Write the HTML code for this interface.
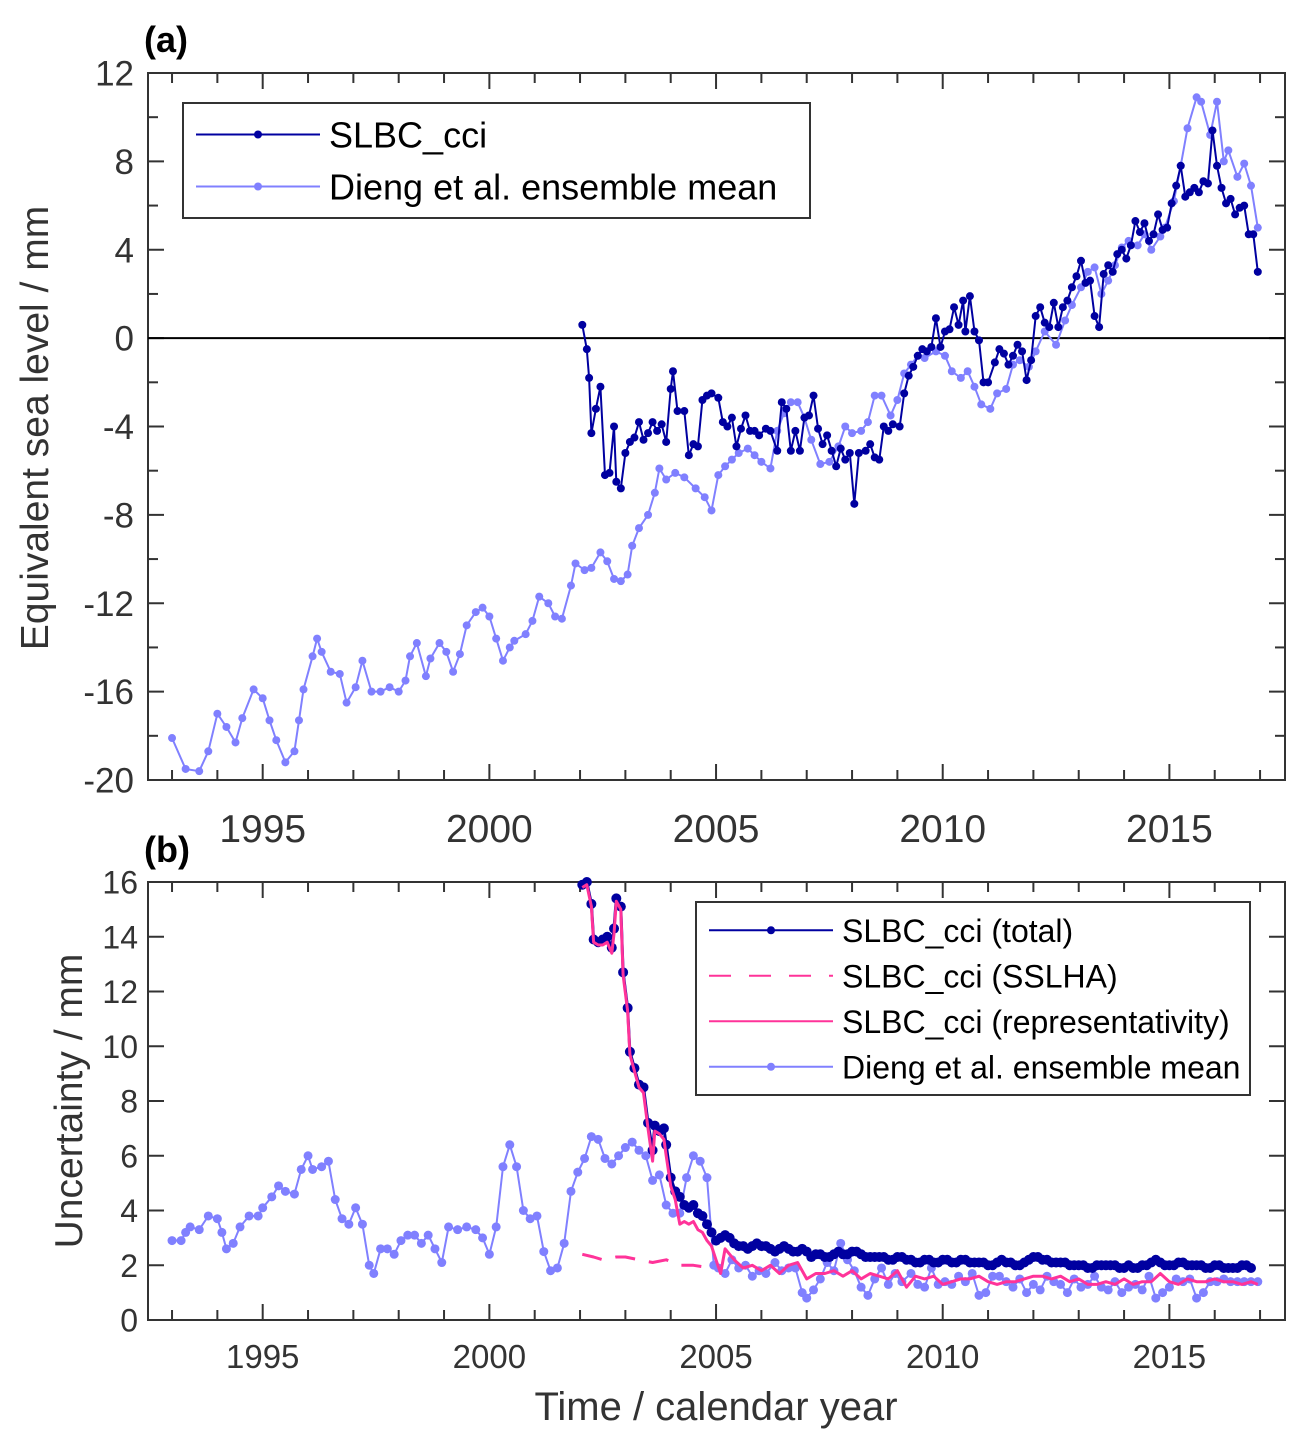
<!DOCTYPE html>
<html><head><meta charset="utf-8"><style>
body{margin:0;background:#fff}
svg{display:block;font-family:"Liberation Sans",Arial,sans-serif}
</style></head><body>
<svg id="fig" width="1304" height="1447" viewBox="0 0 1304 1447" xmlns="http://www.w3.org/2000/svg">
<g id="pa"></g>
<g id="pb"></g>
</svg>
<script>
// ---- Panel (a) data ----
const aDiengT=[1993.0,1993.3,1993.6,1993.8,1994.0,1994.2,1994.4,1994.55,1994.8,1995.0,
1995.15,1995.3,1995.5,1995.7,1995.8,1995.9,1996.1,1996.2,1996.3,1996.5,
1996.7,1996.85,1997.05,1997.2,1997.4,1997.6,1997.8,1998.0,1998.15,1998.25,
1998.4,1998.6,1998.7,1998.9,1999.05,1999.2,1999.35,1999.5,1999.7,1999.85,
2000.0,2000.15,2000.3,2000.45,2000.55,2000.8,2000.95,2001.1,2001.3,2001.45,
2001.6,2001.8,2001.9,2002.1,2002.25,2002.45,2002.6,2002.75,2002.9,2003.05,
2003.15,2003.3,2003.5,2003.65,2003.75,2003.9,2004.1,2004.3,2004.55,2004.75,
2004.9,2005.05,2005.2,2005.35,2005.5,2005.7,2005.85,2006.0,2006.2,2006.35,
2006.5,2006.65,2006.8,2006.95,2007.1,2007.3,2007.5,2007.7,2007.85,2008.0,
2008.2,2008.35,2008.5,2008.65,2008.85,2009.0,2009.15,2009.3,2009.45,2009.6,
2009.85,2010.05,2010.2,2010.4,2010.55,2010.7,2010.85,2011.05,2011.2,2011.4,
2011.55,2011.7,2011.9,2012.05,2012.25,2012.5,2012.7,2012.85,2013.05,2013.2,
2013.35,2013.5,2013.65,2013.8,2013.95,2014.1,2014.3,2014.45,2014.6,2014.8,
2014.9,2015.1,2015.25,2015.4,2015.6,2015.7,2015.9,2016.05,2016.2,2016.3,
2016.5,2016.65,2016.8,2016.95];
const aDiengV=[-18.1,-19.5,-19.6,-18.7,-17.0,-17.6,-18.3,-17.2,-15.9,-16.3,
-17.3,-18.2,-19.2,-18.7,-17.3,-15.9,-14.4,-13.6,-14.2,-15.1,
-15.2,-16.5,-15.8,-14.6,-16.0,-16.0,-15.8,-16.0,-15.5,-14.4,
-13.8,-15.3,-14.5,-13.8,-14.2,-15.1,-14.3,-13.0,-12.4,-12.2,
-12.6,-13.6,-14.6,-14.0,-13.7,-13.4,-12.8,-11.7,-12.0,-12.6,
-12.7,-11.2,-10.2,-10.5,-10.4,-9.7,-10.1,-10.9,-11.0,-10.7,
-9.4,-8.6,-8.0,-7.0,-5.9,-6.4,-6.1,-6.3,-6.8,-7.2,
-7.8,-6.2,-5.8,-5.5,-5.2,-5.0,-5.3,-5.6,-5.9,-4.2,
-3.4,-2.9,-2.9,-3.6,-4.6,-5.7,-5.6,-4.9,-4.0,-4.3,
-4.2,-3.8,-2.6,-2.6,-3.5,-2.8,-1.6,-1.2,-0.8,-0.9,
-0.6,-0.8,-1.5,-1.8,-1.5,-2.2,-3.0,-3.2,-2.5,-2.3,
-1.2,-1.0,-1.3,-0.6,0.3,-0.3,0.8,1.5,2.3,3.0,
3.2,2.0,2.6,3.3,4.1,4.4,4.2,4.7,4.0,4.6,
5.0,6.2,7.8,9.5,10.9,10.7,9.2,10.7,8.0,8.5,
7.3,7.9,6.9,5.0];
const aSlbcT=[2002.05,2002.15,2002.2,2002.25,2002.35,2002.45,2002.55,2002.65,2002.75,2002.8,2002.9,2003.0,2003.1,2003.2,2003.3,2003.4,2003.5,2003.6,2003.7,2003.8,2003.9,2004.0,2004.05,2004.15,2004.3,2004.4,2004.5,2004.6,2004.7,2004.8,2004.9,2005.05,2005.15,2005.25,2005.35,2005.45,2005.55,2005.65,2005.75,2005.85,2005.95,2006.1,2006.2,2006.35,2006.45,2006.55,2006.65,2006.75,2006.85,2006.95,2007.05,2007.15,2007.25,2007.35,2007.45,2007.55,2007.65,2007.75,2007.85,2007.95,2008.05,2008.15,2008.3,2008.4,2008.5,2008.6,2008.7,2008.8,2008.9,2009.05,2009.15,2009.25,2009.35,2009.45,2009.55,2009.65,2009.75,2009.85,2009.95,2010.05,2010.15,2010.25,2010.35,2010.45,2010.5,2010.6,2010.7,2010.8,2010.9,2011.0,2011.15,2011.25,2011.35,2011.45,2011.55,2011.65,2011.75,2011.85,2011.95,2012.05,2012.15,2012.25,2012.35,2012.45,2012.55,2012.65,2012.75,2012.85,2012.95,2013.05,2013.15,2013.25,2013.35,2013.45,2013.55,2013.65,2013.75,2013.85,2013.95,2014.05,2014.15,2014.25,2014.35,2014.45,2014.55,2014.65,2014.75,2014.85,2014.95,2015.05,2015.15,2015.25,2015.35,2015.45,2015.55,2015.65,2015.75,2015.85,2015.95,2016.05,2016.15,2016.25,2016.35,2016.45,2016.55,2016.65,2016.75,2016.85,2016.95];
const aSlbcV=[0.6,-0.5,-1.8,-4.3,-3.2,-2.2,-6.2,-6.1,-4.0,-6.5,-6.8,-5.2,-4.7,-4.5,-3.8,-4.6,-4.3,-3.8,-4.2,-3.9,-4.7,-2.3,-1.5,-3.3,-3.3,-5.3,-4.8,-4.9,-2.8,-2.6,-2.5,-2.7,-3.8,-4.0,-3.6,-4.9,-4.1,-3.5,-4.2,-4.2,-4.4,-4.1,-4.2,-5.1,-2.9,-3.2,-5.1,-4.2,-5.1,-3.6,-3.5,-2.6,-4.1,-4.8,-4.4,-5.1,-5.8,-5.0,-5.5,-5.2,-7.5,-5.2,-5.1,-4.8,-5.4,-5.5,-4.0,-4.2,-3.9,-4.0,-2.5,-1.7,-1.3,-0.8,-0.5,-0.6,-0.4,0.9,-0.4,0.3,0.4,1.4,0.6,1.7,0.3,1.9,0.3,-0.1,-2.0,-2.0,-1.1,-0.5,-0.7,-1.2,-0.8,-0.3,-0.6,-1.9,-1.0,1.0,1.4,0.7,0.5,1.6,0.5,1.4,1.7,2.3,2.8,3.5,2.5,2.6,1.0,0.5,2.9,3.3,3.0,3.8,4.0,3.6,4.2,5.3,4.8,5.2,4.4,4.7,5.6,4.9,5.0,6.1,6.9,7.8,6.4,6.6,6.8,6.6,7.1,7.0,9.4,7.8,6.8,6.1,6.3,5.6,5.9,6.0,4.7,4.7,3.0];
const aYTicks=[12,8,4,0,-4,-8,-12,-16,-20];
const xTickYears=[1995,2000,2005,2010,2015];

// ---- Panel (b) data ----
const bDiengT=[1993.0,1993.2,1993.3,1993.4,1993.6,1993.8,1994.0,1994.1,1994.2,1994.35,
1994.5,1994.7,1994.9,1995.0,1995.2,1995.35,1995.5,1995.7,1995.85,1996.0,
1996.1,1996.3,1996.45,1996.6,1996.75,1996.9,1997.05,1997.2,1997.35,1997.45,
1997.6,1997.75,1997.9,1998.05,1998.2,1998.35,1998.5,1998.65,1998.8,1998.95,
1999.1,1999.3,1999.5,1999.7,1999.85,2000.0,2000.15,2000.3,2000.45,2000.6,
2000.75,2000.9,2001.05,2001.2,2001.35,2001.5,2001.65,2001.8,2001.95,2002.1,
2002.25,2002.4,2002.55,2002.7,2002.85,2003.0,2003.15,2003.3,2003.45,2003.6,
2003.75,2003.9,2004.05,2004.2,2004.35,2004.5,2004.65,2004.8,2004.95,2005.05,
2005.2,2005.35,2005.5,2005.65,2005.8,2005.95,2006.1,2006.3,2006.45,2006.6,
2006.75,2006.9,2007.0,2007.15,2007.3,2007.45,2007.6,2007.75,2007.9,2008.05,
2008.2,2008.35,2008.5,2008.65,2008.8,2008.95,2009.1,2009.3,2009.45,2009.6,
2009.75,2009.9,2010.05,2010.2,2010.35,2010.5,2010.65,2010.8,2010.95,2011.1,
2011.25,2011.4,2011.55,2011.7,2011.85,2012.0,2012.15,2012.3,2012.45,2012.6,
2012.75,2012.9,2013.05,2013.2,2013.35,2013.5,2013.65,2013.8,2013.95,2014.1,
2014.25,2014.4,2014.55,2014.7,2014.85,2015.0,2015.15,2015.3,2015.45,2015.6,
2015.75,2015.9,2016.05,2016.2,2016.35,2016.5,2016.65,2016.8,2016.95];
const bDiengV=[2.9,2.9,3.2,3.4,3.3,3.8,3.7,3.2,2.6,2.8,
3.4,3.8,3.8,4.1,4.5,4.9,4.7,4.6,5.5,6.0,
5.5,5.6,5.8,4.4,3.7,3.5,4.1,3.5,2.0,1.7,
2.6,2.6,2.4,2.9,3.1,3.1,2.8,3.1,2.6,2.1,
3.4,3.3,3.4,3.3,3.0,2.4,3.4,5.6,6.4,5.6,
4.0,3.7,3.8,2.5,1.8,1.9,2.8,4.7,5.4,5.9,
6.7,6.6,5.9,5.7,6.0,6.3,6.5,6.2,6.0,5.1,
5.3,4.2,3.9,3.9,5.2,6.0,5.8,5.2,2.0,1.9,
1.7,2.2,1.9,2.0,1.6,1.8,1.7,2.1,1.8,1.9,
1.9,1.0,0.8,1.1,1.5,2.1,1.8,2.8,2.2,1.8,
1.2,0.9,1.5,1.9,1.3,1.7,1.4,1.7,1.3,1.2,
1.9,1.3,1.4,1.3,1.6,1.4,1.7,0.9,1.0,1.6,
1.6,1.4,1.2,1.5,1.0,1.3,1.1,1.6,1.4,1.3,
1.0,1.5,1.2,1.3,1.6,1.2,1.1,1.4,1.0,1.2,
1.3,1.1,1.6,0.8,1.0,1.2,1.5,1.4,1.5,0.8,
1.0,1.4,1.4,1.5,1.4,1.4,1.4,1.4,1.4];
const bTotT=[2002.05,2002.15,2002.25,2002.3,2002.4,2002.5,2002.6,2002.7,2002.75,2002.8,2002.9,2002.95,2003.05,2003.1,2003.2,2003.3,2003.4,2003.5,2003.6,2003.65,2003.75,2003.85,2003.9,2004.0,2004.1,2004.2,2004.3,2004.4,2004.5,2004.6,2004.7,2004.8,2004.9,2005.0,2005.1,2005.2,2005.3,2005.4,2005.5,2005.6,2005.7,2005.8,2005.9,2006.0,2006.1,2006.2,2006.3,2006.4,2006.5,2006.6,2006.7,2006.8,2006.9,2007.0,2007.1,2007.2,2007.3,2007.4,2007.5,2007.6,2007.7,2007.8,2007.9,2008.0,2008.1,2008.2,2008.3,2008.4,2008.5,2008.6,2008.7,2008.8,2008.9,2009.0,2009.1,2009.2,2009.3,2009.4,2009.5,2009.6,2009.7,2009.8,2009.9,2010.0,2010.1,2010.2,2010.3,2010.4,2010.5,2010.6,2010.7,2010.8,2010.9,2011.0,2011.1,2011.2,2011.3,2011.4,2011.5,2011.6,2011.7,2011.8,2011.9,2012.0,2012.1,2012.2,2012.3,2012.4,2012.5,2012.6,2012.7,2012.8,2012.9,2013.0,2013.1,2013.2,2013.3,2013.4,2013.5,2013.6,2013.7,2013.8,2013.9,2014.0,2014.1,2014.2,2014.3,2014.4,2014.5,2014.6,2014.7,2014.8,2014.9,2015.0,2015.1,2015.2,2015.3,2015.4,2015.5,2015.6,2015.7,2015.8,2015.9,2016.0,2016.1,2016.2,2016.3,2016.4,2016.5,2016.6,2016.7,2016.8,2016.95];
const bTotV=[15.9,16.0,15.2,13.9,13.8,13.9,14.0,13.6,14.3,15.4,15.1,12.7,11.4,9.8,9.2,8.6,8.5,7.2,6.2,7.1,6.9,7.0,6.4,5.2,4.7,4.5,4.2,4.1,4.2,3.9,3.8,3.5,3.2,2.9,3.0,3.1,3.0,2.8,2.7,2.7,2.6,2.7,2.8,2.7,2.7,2.6,2.5,2.6,2.7,2.6,2.5,2.5,2.6,2.5,2.3,2.4,2.4,2.3,2.3,2.4,2.5,2.4,2.4,2.5,2.5,2.4,2.3,2.3,2.3,2.3,2.3,2.2,2.2,2.3,2.3,2.2,2.2,2.1,2.1,2.2,2.2,2.1,2.1,2.2,2.2,2.1,2.1,2.2,2.2,2.1,2.1,2.1,2.1,2.0,2.0,2.1,2.2,2.1,2.1,2.0,2.0,2.1,2.2,2.3,2.3,2.2,2.2,2.1,2.1,2.1,2.1,2.0,2.0,2.0,2.0,1.9,1.9,2.0,2.0,2.0,2.0,2.0,1.9,1.9,2.0,1.9,1.9,2.0,2.0,2.1,2.2,2.1,2.0,2.0,2.0,2.1,2.1,2.0,2.0,2.0,2.0,1.9,1.9,2.0,2.0,1.9,1.9,1.9,1.9,2.0,2.0,1.9];
const bRepT=[2002.05,2002.15,2002.25,2002.3,2002.4,2002.5,2002.6,2002.7,2002.75,2002.8,2002.9,2002.95,2003.05,2003.1,2003.2,2003.3,2003.4,2003.5,2003.6,2003.65,2003.75,2003.85,2003.9,2004.0,2004.1,2004.2,2004.3,2004.4,2004.5,2004.6,2004.7,2004.8,2004.9,2005.0,2005.1,2005.2,2005.4,2005.6,2005.8,2006.0,2006.2,2006.4,2006.6,2006.8,2007.0,2007.2,2007.4,2007.6,2007.8,2008.0,2008.2,2008.4,2008.6,2008.8,2009.0,2009.2,2009.4,2009.6,2009.8,2010.0,2010.2,2010.4,2010.6,2010.8,2011.0,2011.2,2011.4,2011.6,2011.8,2012.0,2012.2,2012.4,2012.6,2012.8,2013.0,2013.2,2013.4,2013.6,2013.8,2014.0,2014.2,2014.4,2014.6,2014.8,2015.0,2015.2,2015.4,2015.6,2015.8,2016.0,2016.2,2016.4,2016.6,2016.8,2016.95];
const bRepV=[15.8,15.9,15.1,13.8,13.7,13.7,13.8,13.4,14.1,15.3,15.0,12.6,11.3,9.7,9.1,8.5,8.3,7.0,5.8,6.9,6.8,6.6,6.0,4.9,4.4,3.5,3.6,3.5,3.6,3.3,3.2,2.9,2.7,2.2,1.7,2.6,2.2,1.9,2.0,1.8,2.0,1.7,2.0,2.1,1.5,1.7,1.7,1.8,1.6,1.8,1.5,1.7,1.6,1.5,1.8,1.2,1.6,1.5,1.6,1.3,1.4,1.5,1.5,1.6,1.4,1.3,1.4,1.4,1.5,1.6,1.6,1.5,1.6,1.4,1.5,1.3,1.3,1.4,1.3,1.5,1.3,1.4,1.4,1.7,1.4,1.3,1.5,1.4,1.4,1.5,1.4,1.4,1.3,1.4,1.3];
const bSslT=[2002.05,2002.3,2002.5,2002.8,2003.0,2003.3,2003.6,2003.9,2004.2,2004.5,2004.9];
const bSslV=[2.4,2.3,2.2,2.3,2.3,2.2,2.1,2.2,2.0,2.0,1.9];
const bYTicks=[0,2,4,6,8,10,12,14,16];

const NS="http://www.w3.org/2000/svg";
const X0=148,X1=1285,T0=1992.47,T1=2017.55;
function xs(t){return X0+(t-T0)/(T1-T0)*(X1-X0);}
function mk(tag,attrs,parent){const e=document.createElementNS(NS,tag);for(const k in attrs)e.setAttribute(k,attrs[k]);parent.appendChild(e);return e;}
const DARK="#0000a0",LIGHT="#8080ff",PINK="#ff3399",AX="#333";

function axes(g,Y0,Y1,vmin,vmax,yticks,yminor,tickFs,xTickFs,xLabY,yTickDx){
  const ys=v=>Y1-(v-vmin)/(vmax-vmin)*(Y1-Y0);
  for(let y=1993;y<=2017;y++){
    const x=xs(y),L=(y%5===0)?16:10;
    const t1=mk('line',{x1:x,x2:x,y1:Y1,y2:Y1-L,stroke:AX,'stroke-width':2},g);
    
    const t2=mk('line',{x1:x,x2:x,y1:Y0,y2:Y0+L,stroke:AX,'stroke-width':2},g);
    
  }
  xTickYears.forEach(y=>{
    const t=mk('text',{x:xs(y),y:xLabY,'text-anchor':'middle','font-size':xTickFs,fill:AX},g);
    t.textContent=y;
    
  });
  yminor.forEach(v=>{
    const y=ys(v),L=yticks.includes(v)?16:10;
    const a=mk('line',{x1:X0,x2:X0+L,y1:y,y2:y,stroke:AX,'stroke-width':2},g);
    
    const b=mk('line',{x1:X1,x2:X1-L,y1:y,y2:y,stroke:AX,'stroke-width':2},g);
    
  });
  yticks.forEach(v=>{
    const t=mk('text',{x:X0-yTickDx,y:ys(v)+tickFs*0.36,'text-anchor':'end','font-size':tickFs,fill:AX},g);
    t.textContent=v;
    
  });
  const r=mk('rect',{x:X0,y:Y0,width:X1-X0,height:Y1-Y0,fill:'none',stroke:AX,'stroke-width':2},g);
  
  return ys;
}
function series(g,T,V,ys,color,w,r,name,dash){
  const n=Math.min(T.length,V.length);
  const pts=[];for(let i=0;i<n;i++)pts.push(xs(T[i]).toFixed(1)+','+ys(V[i]).toFixed(1));
  const gg=mk('g',{},g);
  
  const l=mk('polyline',{points:pts.join(' '),fill:'none',stroke:color,'stroke-width':w,'stroke-linejoin':'round'},gg);
  if(dash)l.setAttribute('stroke-dasharray',dash);
  
  if(r>0)for(let i=0;i<n;i++){
    const c=mk('circle',{cx:xs(T[i]),cy:ys(V[i]),r:r,fill:color},gg);
    
  }
}
function legend(g,x,y,w,h,items,fs,rowH,lineW){
  const lg=mk('g',{},g);
  
  const r=mk('rect',{x:x,y:y,width:w,height:h,fill:'#fff',stroke:AX,'stroke-width':2},lg);
  
  items.forEach((it,i)=>{
    const cy=y+rowH*(i+0.5)+(h-rowH*items.length)/2;
    const e=mk('g',{},lg);
    
    const l=mk('line',{x1:x+13,x2:x+13+lineW,y1:cy,y2:cy,stroke:it.c,'stroke-width':it.w},e);
    if(it.d)l.setAttribute('stroke-dasharray',it.d);
    if(it.m)mk('circle',{cx:x+13+lineW/2,cy:cy,r:it.m,fill:it.c},e);
    const t=mk('text',{x:x+lineW+22,y:cy+fs*0.36,'font-size':fs,fill:'#000'},e);
    t.textContent=it.t;
  });
}

// Panel a
const ga=document.getElementById('pa');
const ysA=axes(ga,73,780,-20,12,aYTicks,[12,10,8,6,4,2,0,-2,-4,-6,-8,-10,-12,-14,-16,-18,-20],35,39,842,14);
const zl=mk('line',{x1:X0,x2:X1,y1:ysA(0),y2:ysA(0),stroke:'#000','stroke-width':2},ga);

series(ga,aDiengT,aDiengV,ysA,LIGHT,2,4,'dieng-series');
series(ga,aSlbcT,aSlbcV,ysA,DARK,2,4,'slbc-cci-series');
legend(ga,183,103,627,115,[{t:'SLBC_cci',c:DARK,w:2,m:4},{t:'Dieng et al. ensemble mean',c:LIGHT,w:2,m:4}],36,52,124);
let t=mk('text',{x:144,y:52,'font-size':36,'font-weight':'bold',fill:'#000'},ga);t.textContent='(a)';

t=mk('text',{x:0,y:0,'font-size':39,fill:AX,'text-anchor':'middle',transform:'translate(48,428) rotate(-90)'},ga);t.textContent='Equivalent sea level / mm';


// Panel b
const gb=document.getElementById('pb');
const ysB=axes(gb,882,1320,0,16,bYTicks,bYTicks,32,33,1368,10);
series(gb,bDiengT,bDiengV,ysB,LIGHT,2,4.5,'dieng-uncertainty-series');
series(gb,bSslT,bSslV,ysB,PINK,3,0,'slbc-sslha-series','20,14');
series(gb,bTotT,bTotV,ysB,DARK,3,5,'slbc-total-series');
series(gb,bRepT,bRepV,ysB,PINK,3,0,'slbc-representativity-series');
legend(gb,696,902,554,193,[{t:'SLBC_cci (total)',c:DARK,w:2,m:4},{t:'SLBC_cci (SSLHA)',c:PINK,w:2,d:'22,18'},{t:'SLBC_cci (representativity)',c:PINK,w:2},{t:'Dieng et al. ensemble mean',c:LIGHT,w:2,m:4}],32,45.5,124);
t=mk('text',{x:144,y:862,'font-size':36,'font-weight':'bold',fill:'#000'},gb);t.textContent='(b)';

t=mk('text',{x:0,y:0,'font-size':39,fill:AX,'text-anchor':'middle',transform:'translate(82,1101) rotate(-90)'},gb);t.textContent='Uncertainty / mm';

t=mk('text',{x:716,y:1420,'font-size':40,fill:AX,'text-anchor':'middle'},gb);t.textContent='Time / calendar year';

</script>
</body></html>
